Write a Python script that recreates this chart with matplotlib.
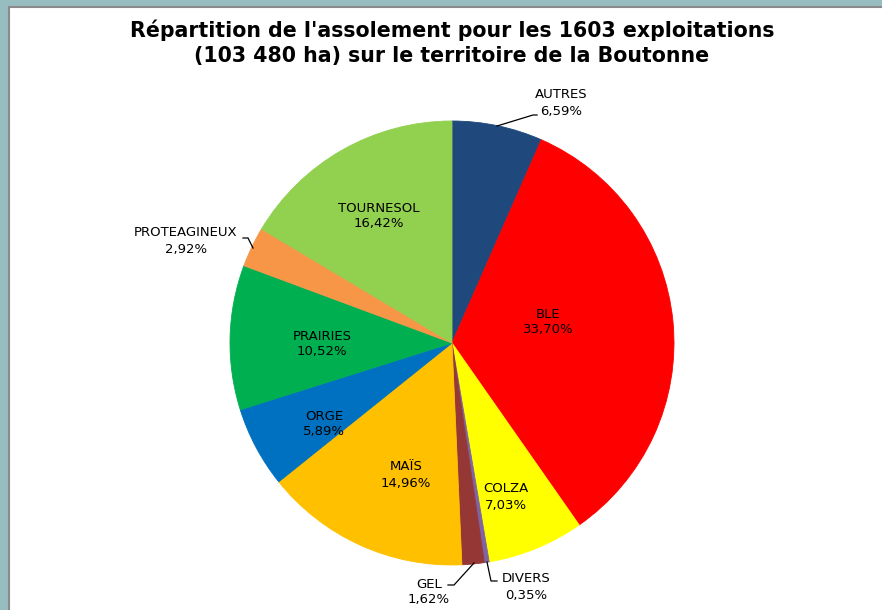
import matplotlib
matplotlib.use("Agg")
import matplotlib.pyplot as plt
import numpy as np
from matplotlib.patches import Rectangle

categories = ["AUTRES", "BLE", "COLZA", "DIVERS", "GEL", "MAÏS", "ORGE",
              "PRAIRIES", "PROTEAGINEUX", "TOURNESOL"]
values = [6.59, 33.70, 7.03, 0.35, 1.62, 14.96, 5.89, 10.52, 2.92, 16.42]
pct_labels = ["6,59%", "33,70%", "7,03%", "0,35%", "1,62%", "14,96%", "5,89%",
              "10,52%", "2,92%", "16,42%"]
colors = ["#1F497D", "#FF0000", "#FFFF00", "#8064A2", "#953735", "#FFC000",
          "#0070C0", "#00B050", "#F79646", "#92D050"]
title = "Répartition de l'assolement pour les 1603 exploitations\n(103 480 ha) sur le territoire de la Boutonne"

W, H = 882, 610
fig = plt.figure(figsize=(W / 100, H / 100), dpi=100)
fig.patch.set_facecolor("#98BDC1")
# white chart area
fig.patches.append(Rectangle((9 / W, -0.01), 1, (H - 7) / H + 0.01, transform=fig.transFigure,
                             facecolor="white", edgecolor="#8A8A8A", linewidth=1.5, zorder=-5))

cx, cy, r = 452, H - 343, 222
ax = fig.add_axes([(cx - r) / W, (cy - r) / H, 2 * r / W, 2 * r / H])
ax.set_zorder(2)
ax.axis("off")

wedges, _ = ax.pie(values, colors=colors, startangle=90, counterclock=False,
                   radius=1, wedgeprops=dict(linewidth=0.6))
for w, c in zip(wedges, colors):
    w.set_edgecolor(c)
ax.set_xlim(-1, 1)
ax.set_ylim(-1, 1)


def to_data(x, y):
    return ((x - cx) / r, ((H - y) - cy) / r)


# label centres in pixel coordinates of the picture
label_px = [(561, 103), (548, 322), (506, 497), (526, 587), (429, 592),
            (406, 475), (324, 424), (322, 344), (186, 241), (379, 216)]

for cat, pl, (lx, ly) in zip(categories, pct_labels, label_px):
    x, y = to_data(lx, ly)
    ax.text(x, y, f"{cat}\n{pl}", ha="center", va="center", fontsize=9.5,
            linespacing=1.3, color="black", family="DejaVu Sans", clip_on=False)

# leader lines (pixel coordinates)
leaders = [
    [(497, 126), (533, 115), (537, 115)],
    [(487, 562), (491, 581), (497, 581)],
    [(474, 563), (454, 585), (448, 585)],
    [(253, 248), (248, 238), (243, 238)],
]
for pts in leaders:
    xs, ys = zip(*[to_data(a, b) for a, b in pts])
    ax.plot(xs, ys, color="black", linewidth=0.9, clip_on=False, solid_joinstyle="miter")

fig.text(452 / W, 1 - 43 / H, title, ha="center", va="center", fontsize=14.8,
         fontweight="bold", linespacing=1.3, family="DejaVu Sans")

fig.savefig("out.png", dpi=100, facecolor=fig.get_facecolor())
